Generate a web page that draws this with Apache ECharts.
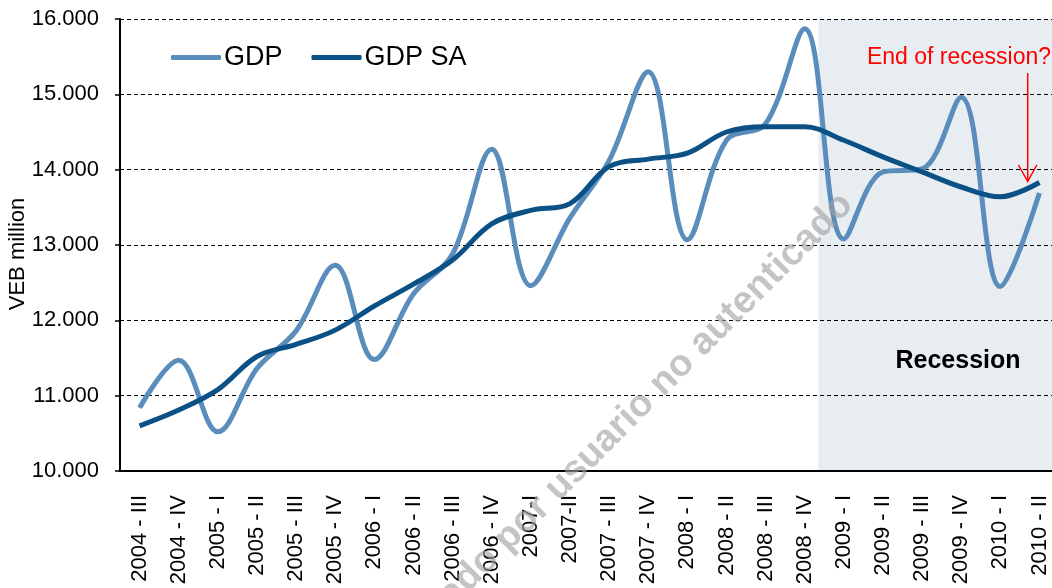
<!DOCTYPE html>
<html>
<head>
<meta charset="utf-8">
<script src="https://cdn.jsdelivr.net/npm/echarts@6/dist/echarts.min.js"></script>
<style>html,body{margin:0;padding:0;background:#fff}#c{width:1052px;height:588px}</style>
</head>
<body>
<div id="c"></div>
<script>
const categories = ['2004 - III','2004 - IV','2005 - I','2005 - II','2005 - III','2005 - IV','2006 - I','2006 - II','2006 - III','2006 - IV','2007-I','2007-II','2007 - III','2007 - IV','2008 - I','2008 - II','2008 - III','2008 - IV','2009 - I','2009 - II','2009 - III','2009 - IV','2010 - I','2010 - II'];
const gdp = [10840, 11470, 10520, 11360, 11860, 12730, 11480, 12350, 12880, 14270, 12460, 13360, 14120, 15300, 13070, 14390, 14610, 15870, 13080, 13970, 14010, 14960, 12450, 13690];
const gdpSA = [10600, 10810, 11080, 11520, 11680, 11870, 12190, 12480, 12800, 13280, 13460, 13550, 14040, 14140, 14220, 14500, 14570, 14570, 14390, 14170, 13970, 13770, 13640, 13830];
const yTicks = [10000, 11000, 12000, 13000, 14000, 15000, 16000];
const recessionStart = 17.85; // in quarter-index units (2008 - IV spans 17..18)
const recessionEnd = 24;

const fmt = v => Math.floor(v / 1000) + '.' + String(Math.round(v % 1000)).padStart(3, '0');
const FONT = '"Liberation Sans", Arial, sans-serif';

const chart = echarts.init(document.getElementById('c'), null, {renderer: 'canvas'});
chart.setOption({
  animation: false,
  textStyle: {fontFamily: FONT},
  grid: {left: 120, top: 19, width: 939, height: 452, containLabel: false, outerBoundsMode: 'none'},
  legend: {
    left: 171, top: 44, padding: 0, itemWidth: 50, itemHeight: 5, itemGap: 29,
    icon: 'roundRect',
    textStyle: {fontSize: 27, color: '#000', fontFamily: FONT, padding: [0, 0, 0, -2]},
    data: ['GDP', 'GDP SA']
  },
  xAxis: [{
    type: 'category', data: categories, boundaryGap: true,
    axisLine: {lineStyle: {color: '#000', width: 2}},
    axisTick: {length: 7, lineStyle: {color: '#000', width: 1.5}},
    axisLabel: {rotate: 90, margin: 24, fontSize: 22, color: '#000', interval: 0, fontFamily: FONT},
    splitLine: {show: false}
  }, {
    type: 'value', min: 0, max: 24, show: false
  }],
  yAxis: {
    type: 'value', min: yTicks[0], max: yTicks[yTicks.length - 1], interval: 1000,
    name: 'VEB million', nameLocation: 'middle', nameGap: 91, nameMoveOverlap: false,
    nameTextStyle: {fontSize: 22, color: '#000', fontFamily: FONT, padding: [0, 18, 0, 0]},
    axisLine: {show: true, lineStyle: {color: '#000', width: 2}},
    axisTick: {show: true, length: 5, lineStyle: {color: '#000', width: 1.5}},
    axisLabel: {margin: 21, fontSize: 22, color: '#000', formatter: fmt, fontFamily: FONT},
    splitLine: {show: true, lineStyle: {color: '#000', type: [4, 3], width: 1}}
  },
  series: [{
    name: 'recession', type: 'line', xAxisIndex: 1,
    data: [[recessionStart, yTicks[yTicks.length - 1]], [recessionEnd, yTicks[yTicks.length - 1]]],
    symbol: 'none', lineStyle: {width: 0}, silent: true, z: -1,
    areaStyle: {color: '#E8EDF2', opacity: 1, origin: 'start'}
  }, {
    name: 'GDP', type: 'line', data: gdp, smooth: 0.36, symbol: 'none',
    lineStyle: {color: '#5A8DBB', width: 5}, itemStyle: {color: '#5A8DBB'}, z: 3
  }, {
    name: 'GDP SA', type: 'line', data: gdpSA, smooth: 0.36, symbol: 'none',
    lineStyle: {color: '#0B5185', width: 5}, itemStyle: {color: '#0B5185'}, z: 4
  }],
  graphic: [
    {type: 'text', x: 958, y: 361, z: 10, style: {text: 'Recession', font: 'bold 25px ' + FONT, fill: '#000', textAlign: 'center', textVerticalAlign: 'middle'}},
    {type: 'text', x: 959, y: 58, z: 10, style: {text: 'End of recession?', font: '23px ' + FONT, fill: '#FF0000', textAlign: 'center', textVerticalAlign: 'middle'}},
    {type: 'line', z: 10, shape: {x1: 1027.7, y1: 73, x2: 1027.7, y2: 181}, style: {stroke: '#FF0000', lineWidth: 1.5}},
    {type: 'polyline', z: 10, shape: {points: [[1018.5, 165], [1027.7, 181.5], [1036.8, 165]]}, style: {stroke: '#FF0000', lineWidth: 1.5, fill: null}},
    {type: 'text', x: 847, y: 199, rotation: Math.PI / 4, z: 20, silent: true,
     style: {text: 'Documento descargado por usuario no autenticado', font: 'bold 38px ' + FONT, fill: 'rgba(160,160,160,0.62)', textAlign: 'right', textVerticalAlign: 'middle'}}
  ]
});
</script>
</body>
</html>
